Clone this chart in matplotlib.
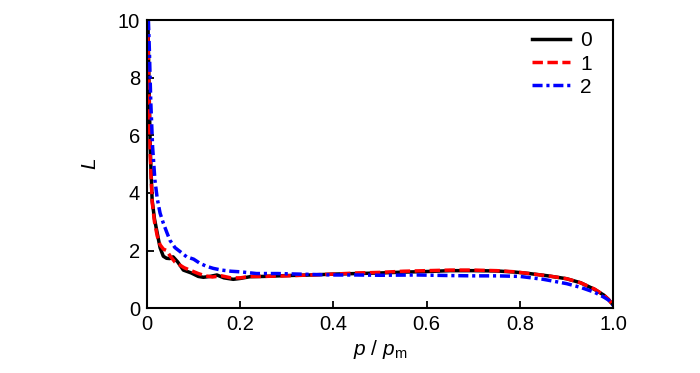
import matplotlib
matplotlib.use("Agg")
import matplotlib.pyplot as plt

plt.rcParams['font.family'] = ['Liberation Sans', 'DejaVu Sans']
plt.rcParams['mathtext.fontset'] = 'custom'
plt.rcParams['mathtext.rm'] = 'Liberation Sans'
plt.rcParams['mathtext.it'] = 'Liberation Sans:italic'

# curve 0 (black, solid)
p0 = [0.002, 0.004, 0.007, 0.011, 0.016, 0.022, 0.028, 0.035, 0.042, 0.049, 0.056,
      0.066, 0.078, 0.095, 0.11, 0.121, 0.135, 0.15, 0.165, 0.185, 0.2, 0.221, 0.25,
      0.3, 0.35, 0.4, 0.45, 0.5, 0.55, 0.6, 0.65, 0.7, 0.75, 0.79, 0.82, 0.86, 0.9,
      0.93, 0.96, 0.98, 0.99, 1.0]
L0 = [10.0, 8.0, 5.5, 3.75, 3.1, 2.6, 2.1, 1.8, 1.73, 1.72, 1.78,
      1.6, 1.32, 1.22, 1.1, 1.07, 1.1, 1.15, 1.05, 1.0, 1.03, 1.09, 1.1,
      1.13, 1.15, 1.18, 1.2, 1.22, 1.25, 1.27, 1.3, 1.3, 1.29, 1.25, 1.2, 1.12, 1.02,
      0.88, 0.65, 0.45, 0.3, 0.1]

# curve 1 (red, dashed)
p1 = [0.002, 0.004, 0.007, 0.011, 0.016, 0.022, 0.028, 0.035, 0.042, 0.05, 0.06,
      0.07, 0.08, 0.095, 0.11, 0.125, 0.14, 0.16, 0.18, 0.2, 0.22, 0.25,
      0.3, 0.35, 0.4, 0.45, 0.5, 0.55, 0.6, 0.65, 0.7, 0.75, 0.79, 0.82, 0.86, 0.9,
      0.93, 0.96, 0.98, 0.99, 1.0]
L1 = [9.5, 7.6, 5.3, 3.7, 3.0, 2.5, 2.2, 2.05, 2.0, 1.8, 1.6,
      1.5, 1.4, 1.3, 1.2, 1.12, 1.08, 1.12, 1.05, 1.05, 1.1, 1.1,
      1.12, 1.15, 1.18, 1.22, 1.24, 1.28, 1.3, 1.32, 1.32, 1.3, 1.26, 1.2, 1.12, 1.02,
      0.88, 0.66, 0.45, 0.3, 0.1]

# curve 2 (blue, dash-dot)
p2 = [0.003, 0.005, 0.008, 0.012, 0.017, 0.022, 0.028, 0.035, 0.042, 0.049, 0.06,
      0.072, 0.085, 0.1, 0.114, 0.128, 0.142, 0.16, 0.18, 0.2, 0.235, 0.28,
      0.35, 0.4, 0.45, 0.5, 0.58, 0.65, 0.7, 0.75, 0.8, 0.85, 0.9, 0.93, 0.96, 0.98,
      0.99, 1.0]
L2 = [10.0, 9.0, 7.2, 5.6, 4.44, 3.8, 3.3, 2.95, 2.65, 2.36, 2.1,
      1.95, 1.78, 1.7, 1.55, 1.45, 1.38, 1.32, 1.28, 1.26, 1.2, 1.2,
      1.17, 1.15, 1.15, 1.14, 1.15, 1.13, 1.12, 1.12, 1.1, 1.0, 0.85, 0.72, 0.55, 0.38,
      0.28, 0.1]

labels = ['0', '1', '2']

fig = plt.figure(figsize=(7, 3.73), dpi=100)
ax = fig.add_axes([0.21, 0.174, 0.666, 0.772])

ax.plot(p0, L0, color='black', linestyle='-', linewidth=2.5, label=labels[0])
ax.plot(p1, L1, color='red', linestyle=(0, (3.0, 1.3)), linewidth=2.5, label=labels[1])
ax.plot(p2, L2, color='blue', linestyle=(0, (2.9, 1.1, 0.9, 1.1)), linewidth=2.5, label=labels[2])

ax.set_xlim(0, 1.0)
ax.set_ylim(0, 10)
ax.set_xticks([0, 0.2, 0.4, 0.6, 0.8, 1.0])
ax.set_xticklabels(['0', '0.2', '0.4', '0.6', '0.8', '1.0'])
ax.set_yticks([0, 2, 4, 6, 8, 10])
ax.tick_params(direction='in', length=5, width=1.3, labelsize=14.5, pad=5,
               top=False, right=False)
for s in ax.spines.values():
    s.set_linewidth(1.5)

ax.set_xlabel(r'$p$ / $p_{\rm m}$', fontsize=15, labelpad=3)
ax.set_ylabel(r'$L$', fontsize=15, labelpad=13)

ax.legend(loc='upper right', bbox_to_anchor=(0.972, 0.99), frameon=False,
          fontsize=15, handlelength=1.8, handletextpad=0.5, labelspacing=0.2,
          borderaxespad=0)

fig.savefig('out.png', dpi=100)
